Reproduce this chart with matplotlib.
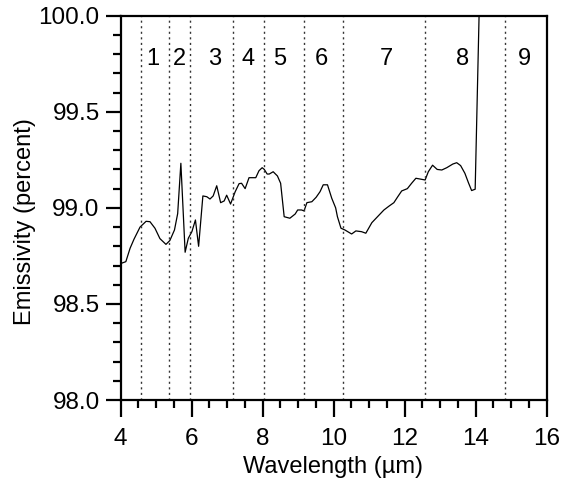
import numpy as np
import matplotlib
matplotlib.use('Agg')
import matplotlib.pyplot as plt
from matplotlib.ticker import MultipleLocator

plt.rcParams['font.family'] = ['Liberation Sans', 'DejaVu Sans']

# spectrum
wavelength = [4.00, 4.03, 4.15, 4.27, 4.38, 4.55, 4.72, 4.83, 4.97, 5.11,
              5.28, 5.39, 5.52, 5.61, 5.70, 5.82, 5.91, 6.01, 6.11, 6.20,
              6.32, 6.43, 6.52, 6.61, 6.71, 6.82, 6.92, 6.99, 7.10, 7.23,
              7.34, 7.41, 7.51, 7.62, 7.81, 7.90, 7.99, 8.05, 8.13, 8.19,
              8.30, 8.42, 8.51, 8.61, 8.77, 8.92, 8.99, 9.10, 9.17, 9.25,
              9.39, 9.51, 9.62, 9.71, 9.83, 9.95, 10.06, 10.11, 10.21, 10.32,
              10.51, 10.63, 10.79, 10.91, 11.08, 11.26, 11.42, 11.57, 11.70, 11.81,
              11.92, 12.08, 12.20, 12.32, 12.44, 12.58, 12.67, 12.79, 12.92, 13.05,
              13.19, 13.36, 13.47, 13.58, 13.70, 13.80, 13.89, 13.99, 14.10]
emissivity = [98.71, 98.712, 98.72, 98.79, 98.837, 98.90, 98.93, 98.928, 98.894, 98.84,
              98.81, 98.83, 98.885, 98.97, 99.232, 98.769, 98.842, 98.876, 98.937, 98.80,
              99.062, 99.058, 99.046, 99.062, 99.115, 99.027, 99.036, 99.066, 99.02, 99.084,
              99.126, 99.128, 99.10, 99.157, 99.157, 99.193, 99.209, 99.20, 99.176, 99.176,
              99.188, 99.166, 99.128, 98.954, 98.946, 98.968, 98.989, 98.989, 98.984, 99.027,
              99.032, 99.055, 99.084, 99.12, 99.12, 99.05, 99.00, 98.954, 98.894, 98.885,
              98.864, 98.88, 98.876, 98.868, 98.923, 98.958, 98.989, 99.01, 99.027, 99.058,
              99.088, 99.10, 99.128, 99.154, 99.15, 99.145, 99.188, 99.222, 99.20, 99.197,
              99.209, 99.228, 99.235, 99.22, 99.18, 99.131, 99.09, 99.097, 100.0]

band_edges = [4.58, 5.37, 5.97, 7.16, 8.05, 9.17, 10.26, 12.57, 14.83]
band_labels = ['1', '2', '3', '4', '5', '6', '7', '8', '9']
band_label_x = [4.92, 5.66, 6.66, 7.58, 8.49, 9.65, 11.48, 13.63, 15.39]

fig = plt.figure(figsize=(5.69, 4.83), dpi=100)
ax = fig.add_axes([0.2118, 0.1718, 0.7487, 0.7957])

ax.plot(wavelength, emissivity, color='black', lw=0.9)

for xe in band_edges:
    ax.axvline(xe, color='#333333', lw=1.0, linestyle=(0, (1.5, 2.5)))
for xl, lab in zip(band_label_x, band_labels):
    ax.text(xl, 99.775, lab, ha='center', va='center', fontsize=17)

ax.set_xlim(4, 16)
ax.set_ylim(98.0, 100.0)
ax.xaxis.set_major_locator(MultipleLocator(2))
ax.xaxis.set_minor_locator(MultipleLocator(0.5))
ax.yaxis.set_major_locator(MultipleLocator(0.5))
ax.yaxis.set_minor_locator(MultipleLocator(0.1))
ax.yaxis.set_major_formatter(plt.FormatStrFormatter('%.1f'))

for sp in ax.spines.values():
    sp.set_linewidth(1.6)
ax.tick_params(axis='x', which='major', direction='out', length=12, width=1.6,
               labelsize=17.5, pad=8)
ax.tick_params(axis='x', which='minor', direction='out', length=6, width=1.6)
ax.tick_params(axis='y', which='major', direction='out', length=11, width=1.6,
               labelsize=17.5, pad=4)
ax.tick_params(axis='y', which='minor', direction='out', length=6, width=1.6)

fig.text(333 / 569, 1 - 467 / 483, 'Wavelength (\u00b5m)', ha='center', va='center',
         fontsize=17)
fig.text(25 / 569, 1 - 222 / 483, 'Emissivity (percent)', ha='center', va='center',
         rotation=90, fontsize=17)

fig.savefig('out.png', dpi=100)
